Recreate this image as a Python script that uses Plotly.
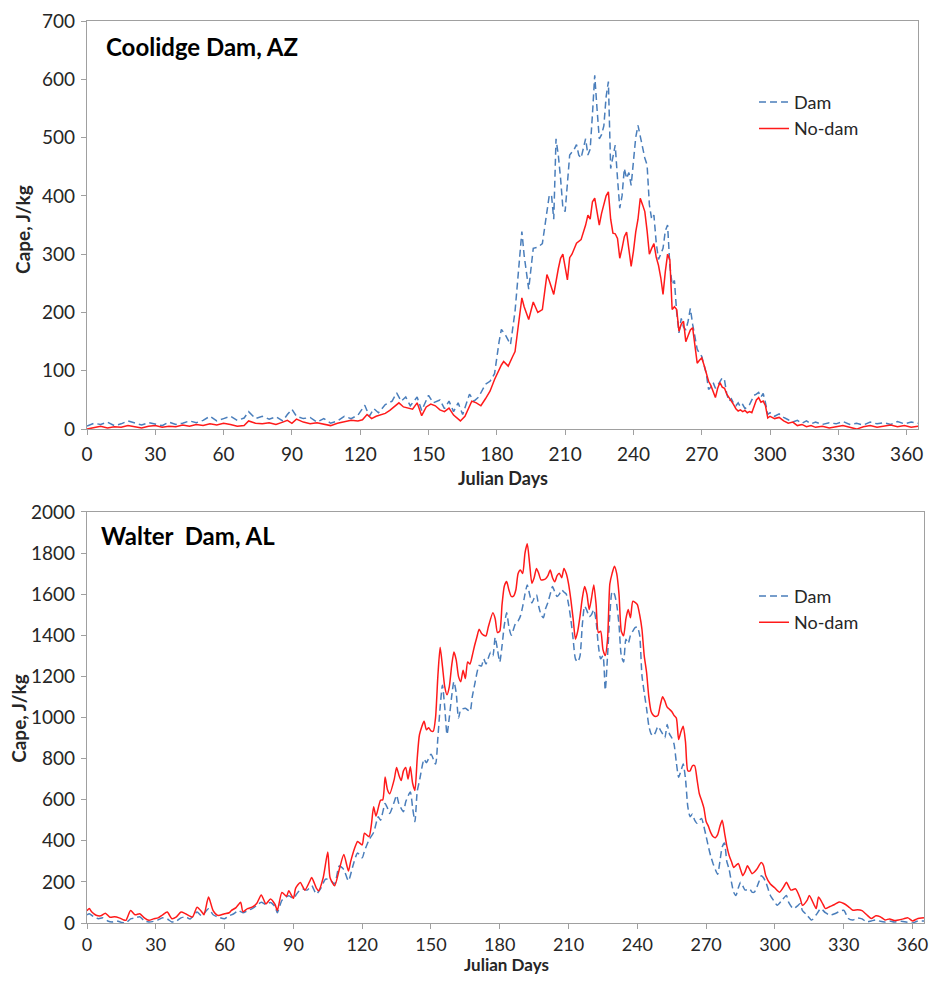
import plotly.graph_objects as go

# ---------------- data (Julian day, CAPE J/kg) ----------------
coolidge_dam = [
    (0, 5), (3, 10), (6, 8), (9, 12), (12, 6), (15, 9), (18, 14), (21, 10), (24, 7), (27, 11),
    (30, 9), (33, 6), (36, 12), (39, 8), (42, 10), (45, 14), (48, 11), (51, 15), (54, 22), (57, 14),
    (60, 18), (63, 22), (66, 15), (69, 19), (71, 30), (74, 18), (77, 22), (80, 17), (83, 21), (86, 14),
    (88, 25), (90, 34), (92, 22), (95, 18), (98, 20), (101, 12), (104, 18), (107, 10), (110, 14), (113, 22),
    (116, 18), (119, 24), (122, 41), (124, 22), (126, 35), (128, 28), (131, 42), (134, 48), (136, 62), (138, 48),
    (140, 55), (142, 40), (145, 55), (147, 32), (150, 58), (152, 45), (155, 50), (157, 35), (159, 48), (161, 30),
    (163, 45), (165, 25), (168, 60), (170, 48), (172, 55), (175, 77), (177, 82), (179, 95), (181, 150), (182, 171),
    (184, 160), (186, 145), (188, 202), (190, 300), (191, 339), (192, 298), (193, 264), (194, 240), (196, 310), (198, 312),
    (200, 318), (202, 373), (203, 400), (204, 402), (205, 360), (206, 498), (207, 470), (208, 430), (209, 380), (210, 373),
    (211, 420), (212, 470), (213, 475), (214, 480), (215, 488), (216, 470), (217, 465), (218, 480), (219, 498), (220, 470),
    (221, 480), (222, 540), (223, 607), (224, 550), (225, 498), (226, 505), (227, 520), (228, 570), (229, 596), (230, 447),
    (231, 470), (232, 487), (233, 430), (234, 379), (235, 400), (236, 447), (237, 430), (238, 440), (239, 418), (240, 460),
    (241, 500), (242, 521), (243, 501), (244, 480), (245, 465), (246, 453), (247, 385), (248, 360), (249, 367), (250, 320),
    (251, 291), (252, 300), (253, 310), (254, 340), (255, 350), (256, 280), (257, 248), (258, 255), (259, 200), (260, 165),
    (261, 190), (262, 175), (263, 170), (264, 185), (265, 207), (266, 180), (267, 160), (268, 137), (269, 130), (270, 125),
    (271, 110), (272, 95), (273, 68), (274, 72), (275, 80), (276, 70), (277, 75), (278, 82), (279, 88), (280, 84),
    (281, 60), (282, 48), (283, 52), (284, 44), (285, 40), (286, 45), (287, 38), (288, 42), (289, 35), (290, 38),
    (291, 42), (292, 50), (293, 58), (294, 60), (295, 63), (296, 55), (297, 61), (298, 45), (299, 25), (300, 28),
    (302, 22), (304, 26), (306, 20), (308, 16), (310, 12), (312, 15), (314, 10), (316, 14), (318, 9), (320, 12),
    (323, 8), (326, 11), (329, 9), (332, 13), (335, 8), (338, 10), (341, 7), (344, 12), (347, 9), (350, 11),
    (353, 8), (356, 13), (359, 9), (362, 12), (365, 10),
]

coolidge_nodam = [
    (0, 0), (3, 3), (6, 5), (9, 2), (12, 4), (15, 3), (18, 6), (21, 4), (24, 2), (27, 5),
    (30, 6), (33, 3), (36, 5), (39, 4), (42, 7), (45, 5), (48, 8), (51, 6), (54, 9), (57, 7),
    (60, 10), (63, 8), (66, 5), (69, 6), (71, 14), (74, 10), (77, 9), (80, 11), (83, 8), (86, 12),
    (88, 15), (90, 10), (92, 17), (95, 12), (98, 9), (101, 11), (104, 8), (107, 6), (110, 10), (113, 12),
    (116, 15), (119, 14), (121, 16), (123, 25), (125, 18), (127, 22), (129, 25), (131, 27), (133, 32), (135, 38),
    (137, 45), (139, 38), (141, 36), (143, 34), (145, 45), (147, 23), (149, 38), (151, 43), (153, 40), (155, 33),
    (157, 30), (159, 36), (161, 24), (163, 18), (164, 14), (166, 22), (169, 48), (171, 45), (173, 40), (175, 52),
    (177, 65), (179, 85), (180, 94), (182, 110), (183, 116), (185, 108), (187, 125), (188, 133), (189, 164), (190, 200),
    (191, 225), (192, 210), (194, 188), (196, 218), (198, 200), (200, 205), (202, 265), (203, 255), (205, 231), (207, 275),
    (208, 293), (209, 300), (210, 280), (211, 256), (212, 294), (213, 300), (215, 319), (217, 325), (219, 350), (220, 367),
    (221, 360), (222, 390), (223, 396), (224, 370), (225, 350), (226, 370), (227, 385), (228, 400), (229, 407), (230, 360),
    (231, 336), (232, 335), (233, 327), (234, 293), (235, 310), (236, 330), (237, 338), (238, 310), (239, 279), (240, 305),
    (241, 338), (242, 360), (243, 396), (244, 385), (245, 373), (246, 340), (247, 300), (248, 310), (249, 318), (250, 295),
    (251, 281), (252, 260), (253, 231), (254, 270), (255, 300), (256, 290), (257, 205), (258, 210), (259, 205), (260, 168),
    (261, 180), (262, 185), (263, 150), (264, 160), (265, 170), (266, 174), (267, 140), (268, 113), (269, 118), (270, 122),
    (271, 110), (272, 95), (273, 82), (274, 75), (275, 65), (276, 54), (277, 70), (278, 80), (279, 72), (280, 70),
    (281, 60), (282, 55), (283, 48), (284, 42), (285, 35), (286, 31), (287, 33), (288, 30), (289, 32), (290, 28),
    (291, 30), (292, 28), (293, 40), (294, 50), (295, 54), (296, 46), (297, 48), (298, 40), (299, 19), (300, 22),
    (302, 18), (304, 20), (306, 14), (308, 10), (310, 12), (312, 6), (314, 8), (316, 4), (318, 6), (320, 3),
    (323, 5), (326, 2), (329, 4), (332, 6), (335, 3), (338, 0), (341, 4), (344, 6), (347, 3), (350, 5),
    (353, 7), (356, 4), (359, 6), (362, 3), (365, 5),
]

walter_dam = [
    (0, 40), (1, 45), (3, 30), (5, 21), (7, 25), (9, 10), (11, 5), (13, 10), (15, 3), (17, 0),
    (19, 20), (21, 25), (23, 30), (25, 10), (27, 5), (29, 8), (31, 15), (33, 25), (35, 20), (37, 5),
    (39, 10), (41, 25), (43, 30), (45, 20), (48, 53), (50, 35), (53, 69), (55, 40), (57, 30), (60, 21),
    (62, 35), (64, 45), (66, 60), (68, 50), (70, 60), (72, 70), (74, 85), (76, 101), (78, 90), (80, 100),
    (82, 80), (83, 50), (85, 110), (88, 133), (90, 120), (92, 150), (94, 165), (96, 160), (98, 181), (100, 141),
    (102, 170), (104, 213), (106, 210), (108, 190), (110, 277), (112, 260), (114, 205), (116, 280), (118, 341), (120, 317),
    (121, 350), (123, 405), (125, 440), (127, 517), (128, 500), (130, 581), (131, 560), (132, 533), (134, 590), (135, 621),
    (136, 580), (138, 541), (139, 590), (141, 637), (142, 560), (143, 493), (144, 640), (145, 693), (147, 797), (148, 780),
    (150, 821), (152, 773), (153, 900), (154, 1050), (155, 1157), (156, 1050), (157, 917), (158, 1000), (159, 1100), (160, 1174),
    (161, 1120), (162, 997), (163, 1037), (165, 1045), (167, 1029), (168, 1100), (169, 1157), (171, 1253), (172, 1250), (173, 1285),
    (174, 1260), (176, 1317), (177, 1300), (178, 1389), (179, 1330), (180, 1270), (181, 1350), (182, 1450), (183, 1509), (184, 1440),
    (185, 1400), (187, 1461), (188, 1470), (189, 1493), (190, 1540), (191, 1600), (192, 1645), (193, 1600), (194, 1557), (195, 1580),
    (196, 1597), (197, 1540), (198, 1500), (199, 1485), (200, 1530), (201, 1560), (202, 1600), (203, 1637), (204, 1610), (205, 1589),
    (206, 1600), (207, 1621), (208, 1610), (209, 1600), (210, 1550), (211, 1477), (212, 1380), (213, 1285), (214, 1270), (215, 1300),
    (216, 1450), (217, 1541), (218, 1520), (219, 1490), (220, 1500), (221, 1525), (222, 1470), (223, 1350), (224, 1285), (225, 1300),
    (226, 1133), (227, 1300), (228, 1500), (229, 1613), (230, 1600), (231, 1550), (232, 1450), (233, 1300), (234, 1270), (235, 1381),
    (236, 1360), (237, 1400), (238, 1420), (239, 1437), (240, 1440), (241, 1400), (242, 1205), (243, 1120), (244, 1045), (245, 960),
    (246, 920), (247, 910), (248, 930), (249, 957), (250, 940), (251, 920), (252, 901), (253, 966), (254, 920), (255, 901),
    (256, 870), (257, 781), (258, 709), (259, 740), (260, 773), (261, 700), (262, 566), (263, 517), (264, 530), (265, 500),
    (266, 485), (267, 500), (268, 509), (269, 470), (270, 421), (271, 370), (272, 325), (273, 290), (274, 260), (275, 237),
    (276, 300), (277, 370), (278, 389), (279, 300), (280, 262), (281, 200), (282, 150), (283, 134), (284, 170), (285, 198),
    (286, 180), (287, 160), (289, 166), (290, 150), (291, 150), (293, 200), (294, 230), (295, 220), (296, 200), (298, 134),
    (300, 100), (301, 86), (303, 110), (305, 134), (306, 100), (308, 70), (310, 85), (311, 94), (312, 60), (314, 38),
    (316, 14), (318, 40), (320, 70), (322, 50), (324, 38), (326, 45), (328, 55), (330, 62), (332, 22), (334, 15),
    (336, 25), (338, 20), (340, 5), (342, 10), (344, 15), (346, 8), (348, 5), (350, 10), (352, 5), (355, 8),
    (358, 3), (360, 0), (362, 8), (365, 10),
]

walter_nodam = [
    (0, 60), (1, 70), (2, 55), (4, 38), (6, 35), (8, 48), (10, 28), (12, 30), (14, 25), (16, 15),
    (17, 13), (19, 61), (21, 40), (23, 45), (25, 25), (27, 13), (29, 20), (31, 25), (33, 40), (35, 53),
    (37, 21), (39, 30), (41, 53), (43, 45), (46, 29), (48, 77), (50, 55), (51, 40), (53, 126), (55, 60),
    (57, 37), (60, 45), (62, 50), (63, 61), (65, 75), (67, 101), (68, 55), (70, 70), (72, 77), (74, 95),
    (76, 136), (78, 93), (80, 117), (82, 90), (83, 61), (85, 149), (87, 130), (88, 157), (90, 120), (91, 170),
    (93, 197), (95, 160), (97, 200), (98, 221), (100, 170), (101, 157), (103, 220), (105, 345), (106, 220), (108, 181),
    (110, 260), (112, 333), (114, 253), (115, 300), (117, 373), (118, 397), (120, 380), (121, 437), (123, 420), (124, 477),
    (125, 565), (126, 520), (128, 597), (129, 600), (130, 710), (131, 650), (132, 629), (134, 700), (135, 757), (136, 720),
    (137, 693), (138, 740), (139, 757), (140, 700), (141, 760), (142, 680), (143, 645), (144, 800), (145, 917), (147, 981),
    (148, 940), (149, 950), (150, 935), (151, 933), (152, 1000), (153, 1200), (154, 1341), (155, 1250), (156, 1150), (157, 1110),
    (158, 1150), (159, 1250), (160, 1318), (161, 1280), (162, 1200), (163, 1174), (164, 1230), (165, 1189), (166, 1270), (167, 1260),
    (168, 1300), (169, 1349), (170, 1390), (171, 1429), (172, 1410), (173, 1400), (174, 1397), (175, 1440), (177, 1509), (178, 1480),
    (179, 1413), (180, 1420), (181, 1550), (182, 1640), (183, 1661), (184, 1620), (185, 1589), (186, 1590), (187, 1620), (188, 1700),
    (189, 1717), (190, 1700), (191, 1800), (192, 1845), (193, 1750), (194, 1653), (195, 1680), (196, 1725), (197, 1700), (198, 1669),
    (199, 1670), (200, 1675), (201, 1690), (202, 1717), (203, 1680), (204, 1660), (205, 1690), (206, 1701), (207, 1680), (208, 1725),
    (209, 1700), (210, 1650), (211, 1573), (212, 1480), (213, 1381), (214, 1420), (215, 1493), (216, 1580), (217, 1637), (218, 1600),
    (219, 1525), (220, 1580), (221, 1645), (222, 1550), (223, 1413), (224, 1420), (225, 1330), (226, 1301), (227, 1380), (228, 1650),
    (229, 1701), (230, 1736), (231, 1700), (232, 1600), (233, 1420), (234, 1397), (235, 1480), (236, 1525), (237, 1485), (238, 1565),
    (239, 1560), (240, 1549), (241, 1500), (242, 1429), (243, 1300), (244, 1221), (245, 1100), (246, 1029), (247, 1010), (248, 1005),
    (249, 1010), (250, 1060), (251, 1101), (252, 1080), (253, 1050), (254, 1040), (255, 1029), (256, 1010), (257, 997), (258, 893),
    (259, 930), (260, 957), (261, 880), (262, 741), (263, 740), (264, 765), (265, 765), (266, 700), (267, 630), (268, 597),
    (269, 560), (270, 494), (271, 470), (272, 440), (273, 421), (274, 415), (275, 430), (276, 470), (277, 500), (278, 440),
    (279, 375), (280, 330), (281, 300), (282, 270), (283, 280), (284, 290), (285, 260), (286, 230), (287, 250), (288, 278),
    (289, 260), (290, 240), (292, 260), (294, 294), (295, 280), (296, 230), (298, 190), (300, 170), (302, 150), (304, 180),
    (305, 198), (307, 160), (309, 166), (311, 120), (312, 86), (314, 110), (315, 134), (317, 90), (318, 70), (319, 126),
    (321, 90), (322, 70), (324, 80), (326, 90), (328, 102), (330, 95), (332, 80), (334, 62), (336, 65), (338, 60),
    (340, 40), (342, 22), (344, 35), (346, 30), (348, 15), (350, 20), (352, 12), (354, 15), (356, 20), (358, 25),
    (360, 10), (362, 20), (365, 25),
]

x_ticks = [0, 30, 60, 90, 120, 150, 180, 210, 240, 270, 300, 330, 360]
top_y_ticks = [0, 100, 200, 300, 400, 500, 600, 700]
bottom_y_ticks = [0, 200, 400, 600, 800, 1000, 1200, 1400, 1600, 1800, 2000]

series_names = ["Dam", "No-dam"]
panel_titles = ["Coolidge Dam, AZ", "Walter  Dam, AL"]
axis_title_x = "Julian Days"
axis_title_y = "Cape, J/kg"

# ---------------- styling ----------------
BLUE = "#4a7ebb"
RED = "#ff1a1a"
AXIS_GRAY = "#a0a0a0"
FONT = "Lato, 'Open Sans', sans-serif"
TXT = "#262626"


def unzip(pairs):
    return [p[0] for p in pairs], [p[1] for p in pairs]


fig = go.Figure()

d_x, d_y = unzip(coolidge_dam)
n_x, n_y = unzip(coolidge_nodam)
fig.add_trace(go.Scatter(x=d_x, y=d_y, mode="lines", name=series_names[0],
                         line=dict(color=BLUE, width=1.5, dash="7px,4px"),
                         xaxis="x", yaxis="y", legend="legend"))
fig.add_trace(go.Scatter(x=n_x, y=n_y, mode="lines", name=series_names[1],
                         line=dict(color=RED, width=1.5),
                         xaxis="x", yaxis="y", legend="legend"))

d_x, d_y = unzip(walter_dam)
n_x, n_y = unzip(walter_nodam)
fig.add_trace(go.Scatter(x=d_x, y=d_y, mode="lines", name=series_names[0],
                         line=dict(color=BLUE, width=1.5, dash="7px,4px", shape="spline", smoothing=0.6),
                         xaxis="x2", yaxis="y2", legend="legend2"))
fig.add_trace(go.Scatter(x=n_x, y=n_y, mode="lines", name=series_names[1],
                         line=dict(color=RED, width=1.5, shape="spline", smoothing=0.6),
                         xaxis="x2", yaxis="y2", legend="legend2"))

# geometry: the page body adds an 8px margin; figure sized to fit the window.
# Positions passed to px()/py() are in window (image) pixels.
OFF = 8
W, H = 938 - 2 * OFF, 983 - 2 * OFF
ML = 87 - OFF
MT = 19 - OFF
MR = W - (929 - OFF)
MB = H - (923 - OFF)
PW = W - ML - MR
PH = H - MT - MB


def px(ximg):
    return (ximg - OFF - ML) / PW


def py(yimg):
    return (H - MB - (yimg - OFF)) / PH


def axis_style(size):
    return dict(
        showgrid=False, zeroline=False, showline=True, linecolor=AXIS_GRAY, linewidth=1.3,
        mirror=True, ticks="outside", tickcolor=AXIS_GRAY, ticklen=5, tickwidth=1,
        tickfont=dict(family=FONT, size=size, color=TXT),
    )


fig.update_layout(
    width=W, height=H,
    margin=dict(l=ML, r=MR, t=MT, b=MB),
    paper_bgcolor="white", plot_bgcolor="white",
    font=dict(family=FONT, color=TXT),
    xaxis=dict(domain=[0, px(923)], range=[0, 365], tickvals=x_ticks, anchor="y",
               ticklabelstandoff=3, **axis_style(19)),
    yaxis=dict(domain=[py(428), py(19)], range=[0, 700], tickvals=top_y_ticks, anchor="x",
               ticklabelstandoff=2, **axis_style(19)),
    xaxis2=dict(domain=[0, 1], range=[0, 365], tickvals=x_ticks, anchor="y2",
                ticklabelstandoff=0, **axis_style(18)),
    yaxis2=dict(domain=[0, py(511)], range=[0, 2000], tickvals=bottom_y_ticks, anchor="x2",
                ticklabelstandoff=2, **axis_style(19)),
    legend=dict(x=px(758), y=py(82), xanchor="left", yanchor="top",
                font=dict(family=FONT, size=18, color=TXT), bgcolor="rgba(0,0,0,0)",
                tracegroupgap=0),
    legend2=dict(x=px(758), y=py(577), xanchor="left", yanchor="top",
                 font=dict(family=FONT, size=18, color=TXT), bgcolor="rgba(0,0,0,0)",
                 tracegroupgap=0),
    showlegend=True,
)

annos = [
    dict(text="<b>%s</b>" % panel_titles[0], x=px(104), y=py(45), xanchor="left", yanchor="middle",
         font=dict(family=FONT, size=24, color="black")),
    dict(text="<b>%s</b>" % panel_titles[1], x=px(99), y=py(535), xanchor="left", yanchor="middle",
         font=dict(family=FONT, size=24, color="black")),
    dict(text="<b>%s</b>" % axis_title_x, x=px(505), y=py(477), xanchor="center", yanchor="middle",
         font=dict(family=FONT, size=18, color=TXT)),
    dict(text="<b>%s</b>" % axis_title_x, x=px(509), y=py(965), xanchor="center", yanchor="middle",
         font=dict(family=FONT, size=17, color=TXT)),
    dict(text="<b>%s</b>" % axis_title_y, x=px(22), y=py(228), xanchor="center", yanchor="middle",
         textangle=-90, font=dict(family=FONT, size=19, color=TXT)),
    dict(text="<b>%s</b>" % axis_title_y, x=px(18), y=py(718), xanchor="center", yanchor="middle",
         textangle=-90, font=dict(family=FONT, size=19, color=TXT)),
]
for a in annos:
    a.update(xref="paper", yref="paper", showarrow=False)
fig.update_layout(annotations=annos)

fig.write_html("out.html")
